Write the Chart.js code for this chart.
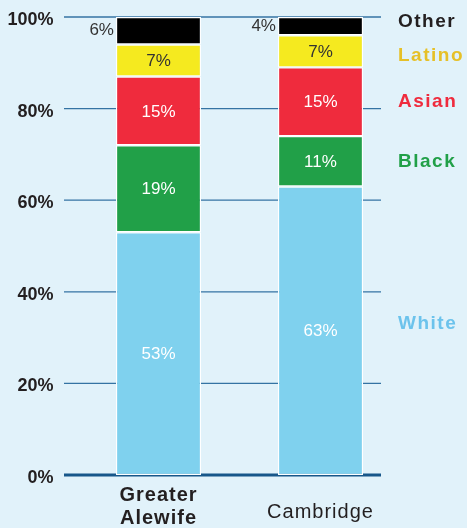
<!DOCTYPE html>
<html>
<head>
<meta charset="utf-8">
<script src="https://cdn.jsdelivr.net/npm/chart.js@4"></script>
<style>
  html, body { margin: 0; padding: 0; background: #e1f2fa; }
  canvas { display: block; }
</style>
</head>
<body>
<canvas id="chart" width="467" height="528"></canvas>
<script>
// data (percent of population)
const categories = ['Greater Alewife', 'Cambridge'];
const categoryLines = [['Greater', 'Alewife'], ['Cambridge']];
const groups = ['White', 'Black', 'Asian', 'Latino', 'Other'];
const white = [53, 63];
const black = [19, 11];
const asian = [15, 15];
const latino = [7, 7];
const other = [6, 4];
const yTicks = [0, 20, 40, 60, 80, 100];
// where the group names sit on the right, in percent
const legendAt = [33, 68.5, 81.5, 91.5, 99];

const barColors = ['#7fd1ee', '#21a048', '#ef2b3d', '#f5ea1f', '#000000'];
const nameColors = ['#6cc3ec', '#21a048', '#ef2b3d', '#e6c028', '#231f20'];
const series = [white, black, asian, latino, other];

const gridLines = {
  id: 'gridLines',
  beforeDatasetsDraw(chart) {
    const { ctx } = chart;
    const y = chart.scales.y;
    ctx.save();
    yTicks.forEach(v => {
      const py = y.getPixelForValue(v);
      ctx.beginPath();
      ctx.strokeStyle = v === 0 ? '#17578a' : '#3473a3';
      ctx.lineWidth = v === 0 ? 3 : 1.3;
      ctx.moveTo(64, py);
      ctx.lineTo(381, py);
      ctx.stroke();
    });
    ctx.restore();
  }
};

const valueLabels = {
  id: 'valueLabels',
  afterDatasetsDraw(chart) {
    const { ctx } = chart;
    ctx.save();
    ctx.font = '17px "Liberation Sans", Arial, sans-serif';
    ctx.textBaseline = 'middle';
    chart.data.datasets.forEach((ds, i) => {
      chart.getDatasetMeta(i).data.forEach((bar, j) => {
        const cy = (bar.y + bar.base) / 2;
        const txt = ds.data[j] + '%';
        if (groups[i] === 'Other') {
          ctx.fillStyle = '#333';
          ctx.textAlign = 'right';
          ctx.fillText(txt, bar.x - bar.width / 2 - 2, cy);
        } else {
          ctx.fillStyle = groups[i] === 'Latino' ? '#333' : '#fff';
          ctx.textAlign = 'center';
          ctx.fillText(txt, bar.x, cy + 1);
        }
      });
    });

    // group names on the right
    const y = chart.scales.y;
    ctx.font = 'bold 19px "Liberation Sans", Arial, sans-serif';
    ctx.letterSpacing = '1.5px';
    ctx.textAlign = 'left';
    groups.forEach((g, i) => {
      ctx.fillStyle = nameColors[i];
      ctx.fillText(g, 398, y.getPixelForValue(legendAt[i]));
    });

    // category names under the bars
    const x = chart.scales.x;
    const bottom = chart.chartArea.bottom;
    ctx.letterSpacing = '1px';
    ctx.textAlign = 'center';
    ctx.fillStyle = '#231f20';
    categoryLines.forEach((lines, i) => {
      const px = x.getPixelForValue(i);
      if (i === 0) {
        ctx.font = 'bold 20px "Liberation Sans", Arial, sans-serif';
        lines.forEach((l, k) => ctx.fillText(l, px, bottom + 20 + k * 23));
      } else {
        ctx.font = '20px "Liberation Sans", Arial, sans-serif';
        ctx.fillText(lines[0], px, bottom + 37);
      }
    });
    ctx.restore();
  }
};

new Chart(document.getElementById('chart'), {
  type: 'bar',
  data: {
    labels: categories,
    datasets: groups.map((g, i) => ({
      label: g,
      data: series[i],
      backgroundColor: barColors[i],
      borderColor: '#ffffff',
      borderWidth: 1.2,
      borderSkipped: false,
      barPercentage: 0.525,
      categoryPercentage: 1
    }))
  },
  options: {
    responsive: false,
    animation: false,
    layout: { padding: { left: 0, right: 65.5, top: 17, bottom: 0 } },
    plugins: {
      legend: { display: false },
      tooltip: { enabled: false }
    },
    scales: {
      x: {
        stacked: true,
        grid: { display: false, drawTicks: false },
        border: { display: false },
        ticks: { display: false },
        afterFit(s) { s.height = 53; }
      },
      y: {
        stacked: true,
        min: 0,
        max: 100,
        afterBuildTicks(s) { s.ticks = yTicks.map(v => ({ value: v })); },
        grid: { display: false, drawTicks: false },
        border: { display: false },
        ticks: {
          padding: 24,
          labelOffset: 3,
          color: '#231f20',
          font: { family: '"Liberation Sans", Arial, sans-serif', size: 18, weight: 'bold' },
          callback: v => v + '%'
        },
        afterFit(s) {
          s.width = 77.5;
          s.paddingTop = 0;
          s.paddingBottom = 0;
        }
      }
    }
  },
  plugins: [gridLines, valueLabels]
});
</script>
</body>
</html>
